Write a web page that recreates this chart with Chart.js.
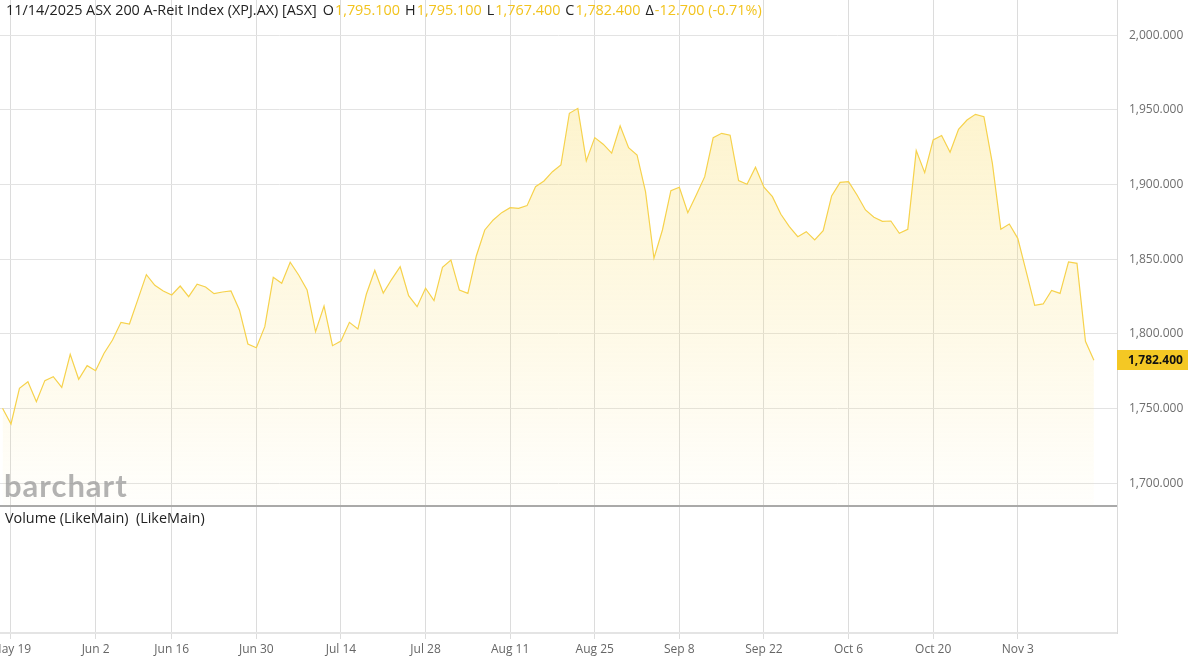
<!DOCTYPE html>
<html><head><meta charset="utf-8">
<script src="https://cdn.jsdelivr.net/npm/chart.js@4.4.1/dist/chart.umd.min.js"></script>
<style>html,body{margin:0;padding:0;background:#fff;}canvas{display:block;}</style>
</head><body>
<canvas id="c" width="1188" height="661"></canvas>
<script>
const dates = ["May 16","May 19","May 20","May 21","May 22","May 23","May 26","May 27","May 28","May 29","May 30",
"Jun 2","Jun 3","Jun 4","Jun 5","Jun 6","Jun 10","Jun 11","Jun 12","Jun 13",
"Jun 16","Jun 17","Jun 18","Jun 19","Jun 20","Jun 23","Jun 24","Jun 25","Jun 26","Jun 27",
"Jun 30","Jul 1","Jul 2","Jul 3","Jul 4","Jul 7","Jul 8","Jul 9","Jul 10","Jul 11",
"Jul 14","Jul 15","Jul 16","Jul 17","Jul 18","Jul 21","Jul 22","Jul 23","Jul 24","Jul 25",
"Jul 28","Jul 29","Jul 30","Jul 31","Aug 1","Aug 4","Aug 5","Aug 6","Aug 7","Aug 8",
"Aug 11","Aug 12","Aug 13","Aug 14","Aug 15","Aug 18","Aug 19","Aug 20","Aug 21","Aug 22",
"Aug 25","Aug 26","Aug 27","Aug 28","Aug 29","Sep 1","Sep 2","Sep 3","Sep 4","Sep 5",
"Sep 8","Sep 9","Sep 10","Sep 11","Sep 12","Sep 15","Sep 16","Sep 17","Sep 18","Sep 19",
"Sep 22","Sep 23","Sep 24","Sep 25","Sep 26","Sep 29","Sep 30","Oct 1","Oct 2","Oct 3",
"Oct 6","Oct 7","Oct 8","Oct 9","Oct 10","Oct 13","Oct 14","Oct 15","Oct 16","Oct 17",
"Oct 20","Oct 21","Oct 22","Oct 23","Oct 24","Oct 27","Oct 28","Oct 29","Oct 30","Oct 31",
"Nov 3","Nov 4","Nov 5","Nov 6","Nov 7","Nov 10","Nov 11","Nov 12","Nov 13","Nov 14"];

const closes = [1750.3,1739.8,1763.6,1768.0,1754.7,1768.8,1771.4,1764.3,1786.4,1769.7,1778.8,
1775.4,1787.1,1796.0,1807.8,1806.7,1823.2,1839.7,1832.6,1828.8,
1826.1,1832.1,1825.0,1833.3,1831.5,1827.0,1828.1,1828.8,1816.1,1793.3,
1790.8,1804.9,1837.9,1833.9,1848.0,1839.5,1829.4,1801.5,1818.7,1792.2,
1795.3,1807.8,1803.3,1826.6,1842.6,1827.4,1836.6,1845.0,1825.6,1818.3,
1830.6,1822.3,1844.6,1849.5,1829.4,1827.2,1852.2,1869.6,1876.3,1881.2,
1884.5,1884.1,1885.9,1898.6,1902.4,1908.6,1913.1,1947.7,1951.0,1915.8,
1931.4,1927.0,1921.0,1939.3,1924.7,1919.8,1895.3,1850.7,1869.6,1895.9,
1898.2,1881.2,1893.0,1905.3,1931.4,1934.3,1933.0,1902.6,1900.2,1911.6,
1898.2,1891.9,1880.1,1871.8,1865.1,1868.5,1862.9,1869.1,1892.4,1901.5,
1901.9,1893.0,1883.0,1878.1,1875.4,1875.6,1867.4,1870.1,1922.7,1908.0,
1929.9,1932.8,1921.6,1937.0,1943.2,1947.0,1945.4,1914.2,1870.1,1873.6,
1864.0,1841.7,1819.2,1820.1,1829.2,1827.2,1848.2,1847.3,1795.1,1782.4];

const tickLabels = ["May 19","Jun 2","Jun 16","Jun 30","Jul 14","Jul 28","Aug 11","Aug 25","Sep 8","Sep 22","Oct 6","Oct 20","Nov 3"];
const priceTicks = [1700,1750,1800,1850,1900,1950,2000];
const headerTitle = "11/14/2025 ASX 200 A-Reit Index (XPJ.AX) [ASX]";
const ohlcLabels = ["O","H","L","C","\u0394"];
const ohlcValues = ["1,795.100","1,795.100","1,767.400","1,782.400","-12.700 (-0.71%)"];
const lastPrice = 1782.4;

const FONT = '"Open Sans","Noto Sans",sans-serif';
const GOLD = '#f2c31e';
Chart.defaults.font.family = FONT;

const fmt = v => Number(v).toLocaleString('en-US',{minimumFractionDigits:3,maximumFractionDigits:3});

const overlay = {
  id:'overlay',
  afterDatasetsDraw(chart){
    const c = chart.ctx;
    c.save();
    c.font = 'bold 31px Lato, "DejaVu Sans", sans-serif';
    try { c.letterSpacing = '1px'; } catch(e) {}
    c.fillStyle = 'rgba(150,150,150,0.72)';
    c.textBaseline = 'alphabetic';
    c.textAlign = 'left';
    c.fillText('barchart', 4, 497);
    c.restore();
  },
  afterDraw(chart){
    const c = chart.ctx;
    c.save();
    c.font = '14.4px ' + FONT;
    c.textBaseline = 'middle';
    c.textAlign = 'left';
    let x = 6; const y = 11;
    c.fillStyle = '#222';
    c.fillText(headerTitle, x, y);
    x += c.measureText(headerTitle).width + 6;
    for (let i = 0; i < ohlcLabels.length; i++) {
      c.fillStyle = '#222';
      c.fillText(ohlcLabels[i], x, y);
      x += c.measureText(ohlcLabels[i]).width + 1;
      c.fillStyle = GOLD;
      c.fillText(ohlcValues[i], x, y);
      x += c.measureText(ohlcValues[i]).width + 5;
    }
    const vol = chart.scales.vol;
    c.fillStyle = '#222';
    c.font = '14.4px ' + FONT;
    c.fillText('Volume (LikeMain)  (LikeMain)', 5, vol.top + 13);
    const ys = chart.scales.y;
    const py = ys.getPixelForValue(lastPrice);
    c.fillStyle = '#f4c824';
    c.fillRect(ys.left, Math.round(py) - 10, ys.width, 20);
    c.fillStyle = '#111';
    c.font = 'bold 12px ' + FONT;
    c.fillText(fmt(lastPrice), ys.left + 11, py);
    c.restore();
  }
};

new Chart(document.getElementById('c'), {
  type:'line',
  data:{
    datasets:[{
      data: closes.map((v,i)=>({x:i,y:v})),
      borderColor:'#f6d24c',
      borderWidth:1.2,
      pointRadius:0,
      tension:0,
      fill:'start',
      backgroundColor:(ctx)=>{
        const chart = ctx.chart;
        const ys = chart.scales.y;
        if (!ys || !chart.chartArea) return 'rgba(250,222,110,0.2)';
        const g = chart.ctx.createLinearGradient(0, ys.getPixelForValue(1951), 0, ys.bottom);
        g.addColorStop(0,'rgba(250,222,110,0.34)');
        g.addColorStop(0.55,'rgba(250,222,110,0.17)');
        g.addColorStop(1,'rgba(250,222,110,0.02)');
        return g;
      },
      yAxisID:'y'
    }]
  },
  options:{
    responsive:false,
    animation:false,
    layout:{padding:0, autoPadding:false},
    plugins:{legend:{display:false}, tooltip:{enabled:false}},
    scales:{
      x:{
        type:'linear', position:'bottom', min:-0.3, max:131.73,
        afterBuildTicks:s=>{ s.ticks = tickLabels.map(l=>({value:dates.indexOf(l)})); },
        afterFit:s=>{ s.height = 28; s.paddingLeft = 0; s.paddingRight = 0; },
        ticks:{autoSkip:false, maxRotation:0, padding:3, color:'#666', font:{size:12}, callback:v=>dates[v] ?? ''},
        grid:{color:'#dcdcdc', lineWidth:1, drawTicks:true, tickLength:6, tickColor:'#dcdcdc'},
        border:{display:true, color:'#e4e4e4', width:2}
      },
      y:{
        type:'linear', position:'right', stack:'panes', stackWeight:506, min:1684.9, max:2023.5,
        afterBuildTicks:s=>{ s.ticks = priceTicks.map(v=>({value:v})); },
        afterFit:s=>{ s.width = 71; s.paddingTop = 0; s.paddingBottom = 0; },
        ticks:{padding:12, color:'#6e6e6e', font:{size:12}, callback:v=>fmt(v)},
        grid:{color:'#e3e3e3', lineWidth:1, drawTicks:false},
        border:{display:true, color:'#dadada', width:1}
      },
      vol:{
        type:'linear', position:'right', stack:'panes', stackWeight:127, min:0, max:1,
        afterBuildTicks:s=>{ s.ticks = [{value:1}]; },
        afterFit:s=>{ s.width = 71; },
        ticks:{display:false},
        grid:{color:'#a9a9a9', lineWidth:2, drawTicks:false},
        border:{display:true, color:'#dadada', width:1}
      }
    }
  },
  plugins:[overlay]
});
</script>
</body></html>
